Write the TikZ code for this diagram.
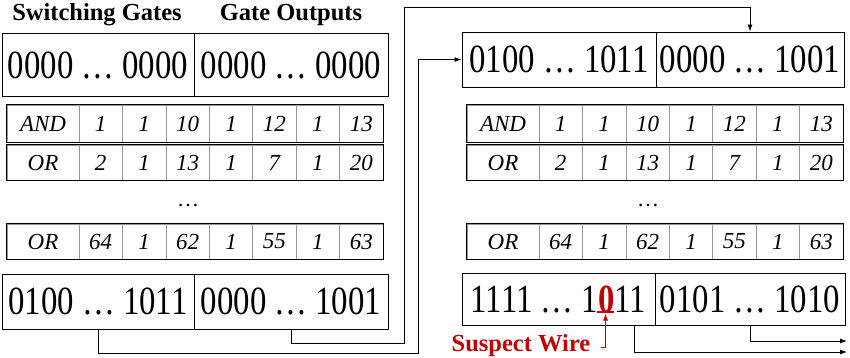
\documentclass[tikz,border=0pt]{standalone}
\usepackage{fontspec}
\setmainfont{Liberation Serif}
\newfontfamily\regfont[FakeStretch=0.82]{Liberation Serif}
\usetikzlibrary{arrows.meta,calc}
\definecolor{wirered}{RGB}{192,0,0}
\definecolor{cellgrey}{RGB}{150,150,150}
\tikzset{
  regbox/.style={draw=black, line width=0.9pt, inner sep=0pt,
    font=\fontsize{40}{40}\selectfont\regfont},
  cellbox/.style={draw=cellgrey, line width=0.7pt, inner sep=0pt,
    font=\fontsize{23}{23}\selectfont\itshape},
  headtext/.style={font=\fontsize{24.5}{24.5}\selectfont\bfseries, inner sep=0pt},
  wire/.style={line width=0.9pt, draw=black},
  wirearrow/.style={wire, -{Latex[length=7pt,width=5pt]}},
  dotstext/.style={font=\fontsize{22}{22}\selectfont, inner sep=0pt},
}
% one gate table: three rows of eight cells, outer frame drawn in black
\newcommand{\gatetable}[2]{% #1 = prefix, #2 = left x
  \foreach \r/\ya/\yb/\vals in {1/105/142/{AND,1,1,10,1,12,1,13},
                                2/145/180/{OR,2,1,13,1,7,1,20},
                                3/224/259/{OR,64,1,62,1,55,1,63}}{
    \foreach \v [count=\c from 0] in \vals {
      \pgfmathsetmacro{\cellx}{\c==0 ? #2 : #2+72+(\c-1)*43.43}
      \pgfmathsetmacro{\cellw}{\c==0 ? 72 : 43.43}
      \pgfmathsetmacro{\cellh}{\yb-\ya}
      \node[cellbox, minimum width=\cellw pt, minimum height=\cellh pt]
        (#1-r\r-c\c) at ({\cellx+\cellw/2}, {(\ya+\yb)/2}) {\v};
    }
    \draw[line width=0.9pt] (#1-r\r-c0.north west) rectangle (#1-r\r-c7.south east);
  }
  \node[dotstext] (#1-dots) at (#2+181, 206) {…};
}

\begin{document}
\begin{tikzpicture}[x=1pt, y=-1pt]
\useasboundingbox (0,0) rectangle (850,358);

% column headings
\node[headtext] (hsw) at (97,15) {Switching Gates};
\node[headtext] (hgo) at (291,15) {Gate Outputs};

% left: initial register and gate table and result
\node[regbox, minimum width=192pt, minimum height=63pt] (lts) at (98,65) {0000 … 0000};
\node[regbox, minimum width=194pt, minimum height=63pt] (lto) at (291,65) {0000 … 0000};
\gatetable{lt}{7}
\node[regbox, minimum width=192pt, minimum height=55pt] (lbs) at (98,301.5) {0100 … 1011};
\node[regbox, minimum width=194pt, minimum height=55pt] (lbo) at (291,301.5) {0000 … 1001};

% right: fed-back register, gate table and result
\node[regbox, minimum width=194pt, minimum height=55pt] (rts) at (559,59.5) {0100 … 1011};
\node[regbox, minimum width=188pt, minimum height=55pt] (rto) at (750,59.5) {0000 … 1001};
\gatetable{rt}{467}
\node[regbox, minimum width=193pt, minimum height=52pt] (rbs) at (558.5,299) {1111 … 1{\bfseries\color{wirered}0}11};
\node[regbox, minimum width=190pt, minimum height=52pt] (rbo) at (750,299) {0101 … 1010};

% feedback wires from left result to right register
\draw[wirearrow] (lbo.south) -- (291,343) -- (404,343) -- (404,7) -- (rto.north |- 0,7) -- (rto.north);
\draw[wirearrow] (lbs.south) -- (98,353) -- (418,353) -- (418,59.5) -- (rts.west);

% outgoing wires
\coordinate (rbsout) at (634,325);
\coordinate (endA) at (847,352);
\coordinate (endB) at (847,341);
\draw[wirearrow] (rbsout) -- (rbsout |- endA) -- (endA);
\draw[wirearrow] (rbo.south) -- (rbo.south |- endB) -- (endB);

% suspect wire marker
\coordinate (ulA) at (597,312);
\coordinate (ulB) at (614,312);
\draw[wirered, line width=2pt] (ulA) -- (ulB);
\coordinate (marktip) at (605.5,313.5);
\coordinate (markfoot) at (601,347);
\draw[wirered, line width=0.9pt, -{Latex[length=7pt,width=5pt]}] (markfoot) -- (marktip |- markfoot) -- (marktip);
\node[headtext, text=wirered] (sw) at (521,346) {Suspect Wire};
\end{tikzpicture}
\end{document}
